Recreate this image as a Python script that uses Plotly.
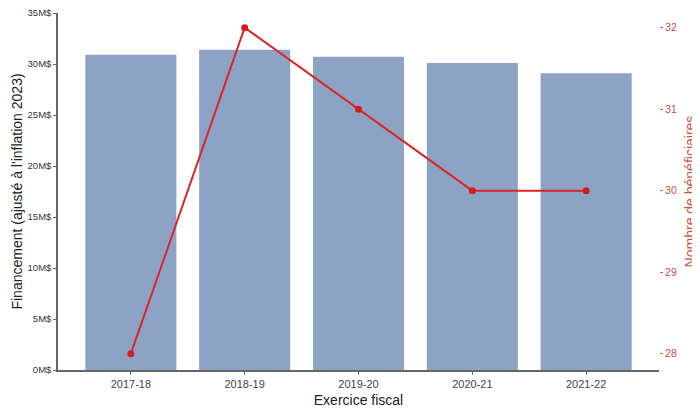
import plotly.graph_objects as go

categories = ["2017-18", "2018-19", "2019-20", "2020-21", "2021-22"]
funding_musd = [30.9, 31.4, 30.7, 30.1, 29.1]
beneficiaries = [28, 32, 31, 30, 30]
left_ticks = [0, 5, 10, 15, 20, 25, 30, 35]
left_tick_text = [f"{v}M$" for v in left_ticks]
right_ticks = [28, 29, 30, 31, 32]

fig = go.Figure()
fig.add_trace(go.Bar(
    x=categories, y=funding_musd, width=0.8,
    marker=dict(color="rgb(141,163,197)", line=dict(width=0)),
    showlegend=False, yaxis="y",
))
fig.add_trace(go.Scatter(
    x=categories, y=beneficiaries, mode="lines+markers",
    line=dict(color="rgb(218,38,38)", width=2),
    marker=dict(color="rgb(210,30,30)", size=7),
    showlegend=False, yaxis="y2",
))

# page body has an 8px margin, so the figure is sized to fit the 700x410 window
fig.update_layout(
    width=692, height=402,
    margin=dict(l=50, r=41, t=5, b=40),
    plot_bgcolor="white", paper_bgcolor="white",
    font=dict(family="Liberation Sans, Arial, sans-serif", color="#333"),
    xaxis=dict(
        range=[-0.64, 4.64], showgrid=False, showline=True, automargin=False,
        linecolor="#666", linewidth=1.5, ticks="outside", ticklen=3,
        tickcolor="#666", tickfont=dict(size=11, color="#444"),
        title=dict(text="Exercice fiscal", font=dict(size=14, color="#222"), standoff=6),
    ),
    yaxis=dict(
        range=[0, 35], tickvals=left_ticks, ticktext=left_tick_text, automargin=False,
        showgrid=False, showline=True, linecolor="#666", linewidth=1.5,
        ticks="outside", ticklen=3, tickcolor="#666", ticklabeloverflow="allow",
        tickfont=dict(size=9.5, color="#333"), zeroline=False,
        title=dict(text="Financement (ajusté à l'inflation 2023)",
                   font=dict(size=14, color="#222"), standoff=2),
    ),
    yaxis2=dict(
        overlaying="y", side="right", range=[27.8, 32.18], automargin=False,
        tickvals=right_ticks, showgrid=False, showline=False, zeroline=False,
        ticks="outside", ticklen=3, tickcolor="rgb(200,90,80)",
        tickfont=dict(size=10.5, color="rgb(200,80,70)"),
        title=dict(text="Nombre de bénéficiaires",
                   font=dict(size=14, color="rgb(205,85,65)"), standoff=9),
    ),
    bargap=0.2,
)

fig.write_html("out.html")
